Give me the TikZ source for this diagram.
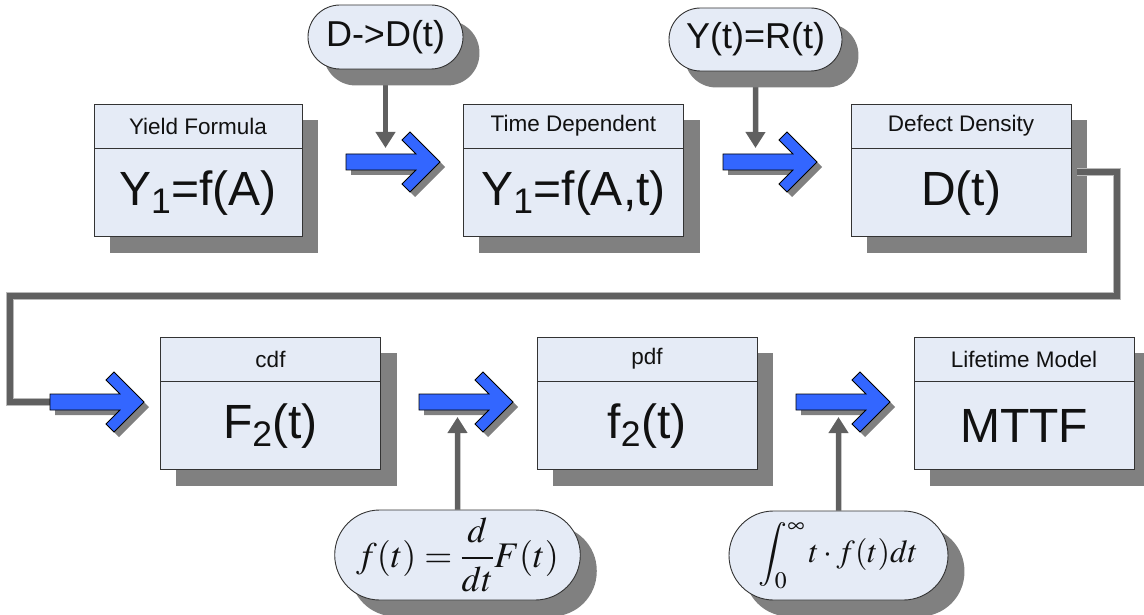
\documentclass[tikz,border=0pt]{standalone}
\usepackage{mathptmx}
\usepackage[no-math]{fontspec}
\setmainfont{Liberation Sans}
\usetikzlibrary{arrows.meta,positioning,shapes.misc,backgrounds}
\definecolor{ink}{HTML}{111111}
\definecolor{frame}{HTML}{333333}
\definecolor{boxfill}{HTML}{E5EBF6}
\definecolor{shadowgray}{HTML}{808080}
\definecolor{wire}{HTML}{606060}
\definecolor{flowblue}{HTML}{3366FF}
\newcommand{\headfont}{\fontsize{22.5}{26}\selectfont}
\newcommand{\bigfont}{\fontsize{48}{54}\selectfont}
\newcommand{\pillfont}{\fontsize{36}{40}\selectfont}
\newcommand{\formfont}{\fontsize{36}{40}\selectfont}
\tikzset{
 every node/.append style={text=ink,align=center},
 boxhead/.style={rectangle,draw=frame,fill=boxfill,line width=.9pt,minimum width=220pt,minimum height=44pt,inner sep=0pt,font=\headfont},
 boxbody/.style={boxhead,minimum height=88pt,font=\bigfont},
 pill/.style={rounded rectangle,draw=frame,fill=boxfill,line width=.9pt,inner xsep=2pt,inner ysep=0pt},
 boxshadow/.style={fill=shadowgray},
 feed/.style={-{Triangle[length=16pt,width=19pt]},draw=wire,line width=5.5pt},
 route/.style={draw=wire,line width=6pt,preaction={draw=shadowgray!55,line width=8pt}},
 flowarrow/.pic={
  \fill[shadowgray,shift={(5,5)}] (0,-8) -- (70,-8) -- (56,-22) -- (64,-30) -- (94,0) -- (64,30) -- (56,22) -- (70,8) -- (0,8) -- cycle;
  \filldraw[fill=flowblue,draw=black,line width=.8pt] (0,-8) -- (70,-8) -- (56,-22) -- (64,-30) -- (94,0) -- (64,30) -- (56,22) -- (70,8) -- (0,8) -- cycle;
 },
}

\begin{document}
\begin{tikzpicture}[x=1pt,y=-1pt]
\useasboundingbox (0,0) rectangle (1144,615);

% top row
\node[boxhead,minimum width=208pt] (yieldhd) at (198,126) {Yield Formula};
\node[boxbody,minimum width=208pt,below=0pt of yieldhd] (yield) {Y\textsubscript{1}=f(A)};
\node[boxhead] (timehd) at (573.5,126) {Time Dependent};
\node[boxbody,below=0pt of timehd] (time) {Y\textsubscript{1}=f(A,t)};
\node[boxhead] (denshd) at (961,126) {Defect Density};
\node[boxbody,below=0pt of denshd] (dens) {D(t)};

% bottom row
\node[boxhead] (cdfhd) at (270.5,359) {cdf};
\node[boxbody,below=0pt of cdfhd] (cdf) {F\textsubscript{2}(t)};
\node[boxhead] (pdfhd) at (647,359) {pdf};
\node[boxbody,below=0pt of pdfhd] (pdf) {f\textsubscript{2}(t)};
\node[boxhead] (lifehd) at (1024,359) {Lifetime Model};
\node[boxbody,below=0pt of lifehd] (life) {MTTF};

% inputs
\node[pill,minimum width=159pt,minimum height=64pt,font=\pillfont] (ddt) at (385.5,37) {D->D(t)};
\node[pill,minimum width=177pt,minimum height=63pt,font=\pillfont] (yrt) at (755.5,39.5) {Y(t)=R(t)};
\node[pill,minimum width=241pt,minimum height=90pt,font=\formfont] (deriv) at (457.5,555) {$\displaystyle f(t)=\frac{d}{dt}F(t)$};
\node[pill,minimum width=223pt,minimum height=89pt,font=\fontsize{32}{36}\selectfont] (mean) at (838.5,555.5) {$\displaystyle\int_0^\infty t\cdot f(t)dt$};

\coordinate (tip1) at (386,148);
\coordinate (tip2) at (759,148);
\coordinate (tip3) at (460,417);
\coordinate (tip4) at (835,417);
\begin{scope}[on background layer]
\draw[feed] (ddt) -- (ddt |- tip1);
\draw[feed] (yrt) -- (yrt |- tip2);
\draw[feed] (deriv) -- (deriv |- tip3);
\draw[feed] (mean) -- (mean |- tip4);
% shadows
\fill[boxshadow] ([shift={(16,16)}]yieldhd.north west) rectangle ([shift={(16,16)}]yield.south east);
\fill[boxshadow] ([shift={(16,16)}]timehd.north west) rectangle ([shift={(16,16)}]time.south east);
\fill[boxshadow] ([shift={(16,16)}]denshd.north west) rectangle ([shift={(16,16)}]dens.south east);
\fill[boxshadow] ([shift={(16,16)}]cdfhd.north west) rectangle ([shift={(16,16)}]cdf.south east);
\fill[boxshadow] ([shift={(16,16)}]pdfhd.north west) rectangle ([shift={(16,16)}]pdf.south east);
\fill[boxshadow] ([shift={(16,16)}]lifehd.north west) rectangle ([shift={(16,16)}]life.south east);
\fill[boxshadow,rounded corners=32pt] ([shift={(16,16)}]ddt.west |- ddt.north) rectangle ([shift={(16,16)}]ddt.east |- ddt.south);
\fill[boxshadow,rounded corners=31.5pt] ([shift={(16,16)}]yrt.west |- yrt.north) rectangle ([shift={(16,16)}]yrt.east |- yrt.south);
\fill[boxshadow,rounded corners=45pt] ([shift={(16,16)}]deriv.west |- deriv.north) rectangle ([shift={(16,16)}]deriv.east |- deriv.south);
\fill[boxshadow,rounded corners=44.5pt] ([shift={(16,16)}]mean.west |- mean.north) rectangle ([shift={(16,16)}]mean.east |- mean.south);
\end{scope}

% wrap-around from the top row to the bottom row
\coordinate (in1) at (50,402);
\coordinate (turn) at (1117,296);
\coordinate (back) at (10,296);
\draw[route] ([shift={(6,-21)}]dens.east) -| (turn) -- (back) |- (in1);

\pic at (346,162) {flowarrow};
\pic at (723,162) {flowarrow};
\pic at (in1) {flowarrow};
\pic at (419,402) {flowarrow};
\pic at (796,402) {flowarrow};

\end{tikzpicture}
\end{document}
